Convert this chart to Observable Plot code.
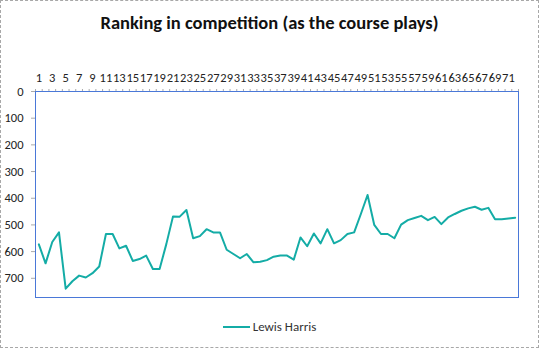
<!DOCTYPE html>
<html><head><meta charset="utf-8">
<script src="https://cdn.jsdelivr.net/npm/d3@7"></script>
<script src="https://cdn.jsdelivr.net/npm/@observablehq/plot@0.6"></script>
<style>
body{margin:0;background:#fff;}
#wrap{width:539px;height:348px;box-sizing:border-box;border:1px dashed #a8a8a8;font-family:Carlito,Calibri,Lato,sans-serif;background:#fff;overflow:hidden;color:#222}
#title{height:45px;box-sizing:border-box;padding-top:11px;text-align:center;font-weight:bold;font-size:18.5px;line-height:22px;color:#111}
#chart{height:264px}
#legend{height:37px;box-sizing:border-box;padding-top:9px;text-align:center;font-size:13px;line-height:16px;color:#333}
#legend .sw{display:inline-block;width:27px;height:0;border-top:2px solid #14aca6;vertical-align:middle;margin-right:3px;position:relative;top:-1px}
</style></head>
<body><div id="wrap"><div id="title">Ranking in competition (as the course plays)</div><div id="chart"></div><div id="legend"><span class="sw"></span>Lewis Harris</div></div>
<script>
const seriesName = "Lewis Harris";
const categories = [1,2,3,4,5,6,7,8,9,10,11,12,13,14,15,16,17,18,19,20,21,22,23,24,25,26,27,28,29,30,31,32,33,34,35,36,37,38,39,40,41,42,43,44,45,46,47,48,49,50,51,52,53,54,55,56,57,58,59,60,61,62,63,64,65,66,67,68,69,70,71,72];
const ranking = [573,644,564,528,739,711,690,697,681,656,534,534,588,578,635,628,615,665,665,572,468,469,444,550,542,516,528,528,593,609,625,609,640,638,632,619,615,615,630,547,580,532,569,516,569,557,534,528,459,388,500,534,534,550,499,482,474,466,482,470,497,472,459,447,438,432,443,436,479,479,476,473];
const xTickLabels = [1,3,5,7,9,11,13,15,17,19,21,23,25,27,29,31,33,35,37,39,41,43,45,47,49,51,53,55,57,59,61,63,65,67,69,71];
const yTickLabels = [0,100,200,300,400,500,600,700];

const data = categories.map((c, i) => ({k: c, r: ranking[i]}));
const boundaries = [0].concat(categories).map(c => c + 0.5);

const chart = Plot.plot({
  width: 537, height: 264,
  marginTop: 45, marginBottom: 13, marginLeft: 34, marginRight: 20,
  style: {fontFamily: "Carlito, Calibri, Lato, sans-serif", color: "#222", background: "transparent"},
  x: {domain: [0.5, 72.5], axis: null},
  y: {domain: [0, 772], reverse: true, axis: null},
  marks: [
    Plot.axisY(yTickLabels, {tickSize: 4, tickPadding: 8, stroke: "#aaa", fontSize: 12.5, fill: "#222", label: null}),
    Plot.axisX(boundaries, {anchor: "top", tickSize: 3, tickFormat: () => "", stroke: "#aaa", label: null}),
    Plot.axisX(xTickLabels, {anchor: "top", tickSize: 0, tickPadding: 10, fontSize: 12.5, fill: "#222", tickFormat: d => String(d), label: null}),
    Plot.line(data, {x: "k", y: "r", stroke: "#14aca6", strokeWidth: 2}),
    Plot.frame({stroke: "#4a78d8", strokeWidth: 1})
  ]
});
document.getElementById("chart").appendChild(chart);
</script>
</body></html>
